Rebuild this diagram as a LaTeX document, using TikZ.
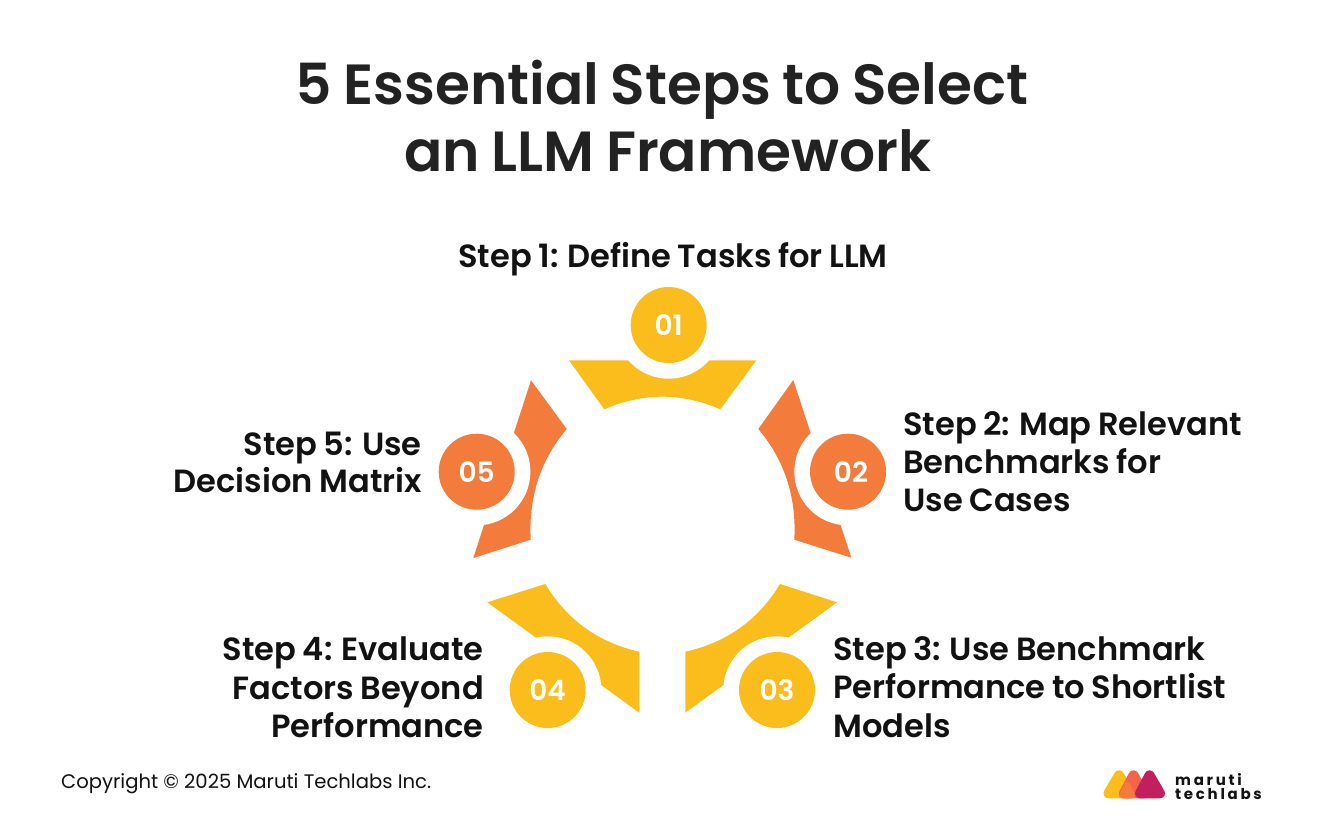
\documentclass[tikz,border=0pt]{standalone}
\usepackage{fontspec}
\usetikzlibrary{calc}
\setmainfont{Poppins}
\newfontfamily\semib[WordSpace=0.85]{Poppins SemiBold}
\definecolor{ylw}{HTML}{FABD1C}
\definecolor{org}{HTML}{F37B3B}
\definecolor{ink}{HTML}{121212}
\definecolor{ttl}{HTML}{222222}
\definecolor{coral}{HTML}{F2654B}
\definecolor{mag}{HTML}{C21F5E}
\newcommand{\bow}[3]{.. controls ($(#1)!.667!(#2)$) and ($(#3)!.667!(#2)$) .. (#3)}
\tikzset{
  ttlbl/.style={inner sep=0,anchor=base,font=\semib\fontsize{56.6}{56.6}\selectfont,text=ttl},
  stepl/.style={inner sep=0,anchor=base west,font=\semib\fontsize{32.1}{32}\selectfont,text=ink},
  stepr/.style={inner sep=0,anchor=base east,font=\semib\fontsize{32.1}{32}\selectfont,text=ink},
  stepc/.style={inner sep=0,anchor=base,font=\semib\fontsize{32.1}{32}\selectfont,text=ink},
  ring/.style={circle,fill=white,minimum size=107.4pt,inner sep=0},
  disc/.style={circle,minimum size=76pt,inner sep=0,text=white,font=\semib\fontsize{28}{28}\selectfont},
  logotri/.style={line width=10pt,line join=round},
  logotxt/.style={inner sep=0,anchor=north west,align=left,font=\bfseries\addfontfeature{LetterSpace=18}\fontsize{15}{13.4}\selectfont,text=ink}
}
\begin{document}
\begin{tikzpicture}[x=1pt,y=-1pt]
\useasboundingbox (0,0) rectangle (1321,826);
\fill[white] (0,0) rectangle (1321,826);
\node[ttlbl] (t1) at (662,105) {5 Essential Steps to Select};
\node[ttlbl] (t2) at (668,172) {an LLM Framework};
% segments
\fill[ylw] (569,360.3) -- (756.3,360.3) -- (720.3,409.3) \bow{720.3,409.3}{662.3,384.1}{604.3,409.3} -- cycle;
\fill[org] (793.3,380) -- (851.3,557.7) -- (794.3,539.7) \bow{794.3,539.7}{797.7,475.7}{758.3,429} -- cycle;
\fill[ylw] (780,584) -- (837,602.3) -- (685.3,712.7) -- (685.3,651.7) \bow{685.3,651.7}{747.4,638}{780,584} -- cycle;
\fill[ylw] (545.3,584) -- (487.3,602.3) -- (639.3,712.7) -- (639.3,651.7) \bow{639.3,651.7}{577.9,638}{545.3,584} -- cycle;
\fill[org] (531,380.3) -- (473.3,558) -- (530.7,539.7) \bow{530.7,539.7}{527.3,475.7}{566.7,429} -- cycle;
% rings and discs
\node[ring] (r1) at (668.7,325) {};
\node[ring] (r2) at (848,471.7) {};
\node[ring] (r3) at (777,690) {};
\node[ring] (r4) at (547.7,690) {};
\node[ring] (r5) at (476.7,471.7) {};
\node[disc,fill=ylw] (c1) at (668.7,325) {01};
\node[disc,fill=org] (c2) at (848,471.7) {\hspace{6pt}02};
\node[disc,fill=ylw] (c3) at (777,690) {\raisebox{-1.5pt}{03}};
\node[disc,fill=ylw] (c4) at (547.7,690) {\raisebox{-1.5pt}{04}};
\node[disc,fill=org] (c5) at (476.7,471.7) {05};
% labels
\node[stepc] (s1) at (673,267) {Step 1: Define Tasks for LLM};
\node[stepl] (s2a) at (903,435) {Step 2: Map Relevant};
\node[stepl] (s2b) at (903,473) {Benchmarks for};
\node[stepl] (s2c) at (903,511) {Use Cases};
\node[stepl] (s3a) at (833,660) {Step 3: Use Benchmark};
\node[stepl] (s3b) at (833,698) {Performance to Shortlist};
\node[stepl] (s3c) at (833,737) {Models};
\node[stepr] (s4a) at (484,660) {Step 4: Evaluate};
\node[stepr] (s4b) at (484,699) {Factors Beyond};
\node[stepr] (s4c) at (484,737) {Performance};
\node[stepr] (s5a) at (422,455) {Step 5: Use};
\node[stepr] (s5b) at (422,492.5) {Decision Matrix};
\node[inner sep=0,anchor=base west,font=\fontsize{19.6}{20}\selectfont,text=ink] (cp) at (61,788) {Copyright © 2025 Maruti Techlabs Inc.};
% logo
\path[fill=ylw,draw=ylw,logotri] (1119,775.3) -- (1108.5,793.3) -- (1130,793.3) -- cycle;
\path[fill=coral,draw=coral,logotri] (1133.5,775.3) -- (1124,793.3) -- (1144,793.3) -- cycle;
\path[fill=org,draw=org,line width=6pt,line join=round] (1127.3,785) -- (1122,795.3) -- (1132,795.3) -- cycle;
\path[fill=mag,draw=mag,logotri] (1149.5,775.3) -- (1140,793.3) -- (1160,793.3) -- cycle;
\node[logotxt] (l1) at (1175,773.5) {maruti\\techlabs};
\end{tikzpicture}
\end{document}
